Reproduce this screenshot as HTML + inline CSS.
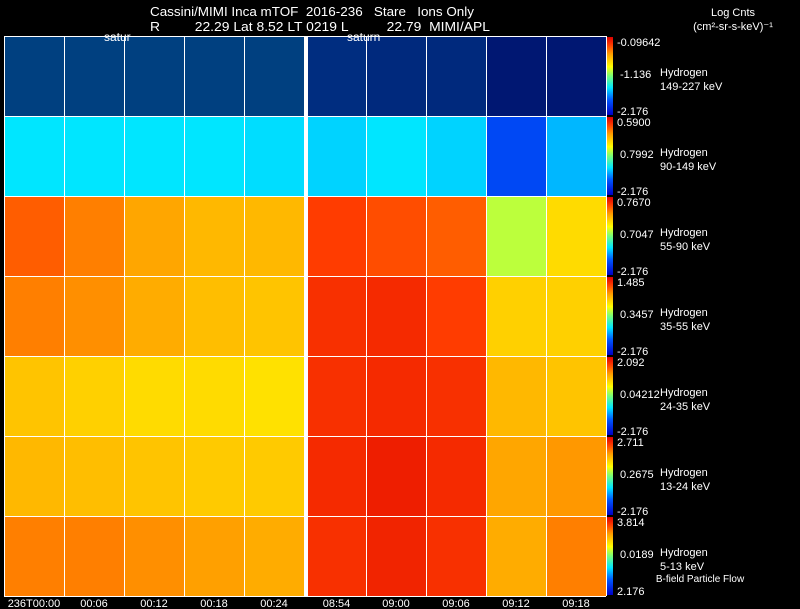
<!DOCTYPE html>
<html><head><meta charset="utf-8"><style>
html,body{margin:0;padding:0;background:#000;width:800px;height:609px;overflow:hidden}
svg{display:block;font-family:"Liberation Sans",sans-serif}
</style></head><body>
<svg id="chart" width="800" height="609" viewBox="0 0 800 609">
<rect width="800" height="609" fill="#000"/>
<text x="150" y="16" fill="#fff" font-size="13" xml:space="preserve" style="white-space:pre" textLength="324" lengthAdjust="spacingAndGlyphs">Cassini/MIMI Inca mTOF  2016-236   Stare   Ions Only</text>
<text x="150" y="31" fill="#fff" font-size="13" xml:space="preserve" style="white-space:pre" textLength="340" lengthAdjust="spacingAndGlyphs">R         22.29 Lat 8.52 LT 0219 L          22.79  MIMI/APL</text>
<text x="733" y="16" fill="#fff" font-size="11" text-anchor="middle">Log Cnts</text>
<text x="733" y="30" fill="#fff" font-size="11" text-anchor="middle">(cm²-sr-s-keV)⁻¹</text>
<g id="panels"></g>
<g id="bars"></g>
<g id="grid"></g>
<text x="104" y="41" fill="#fff" font-size="12">satur</text>
<text x="347" y="41" fill="#fff" font-size="12">saturn</text>
<text x="700" y="582" fill="#fff" font-size="10" text-anchor="middle">B-field Particle Flow</text>
<g id="xlabels"></g>
</svg>
<script>
const times=["236T00:00","00:06","00:12","00:18","00:24","08:54","09:00","09:06","09:12","09:18"];
const energies=["149-227 keV","90-149 keV","55-90 keV","35-55 keV","24-35 keV","13-24 keV","5-13 keV"];
const barTop=["-0.09642","0.5900","0.7670","1.485","2.092","2.711","3.814"];
const barMid=["-1.136","0.7992","0.7047","0.3457","0.04212","0.2675","0.0189"];
const barBot=["-2.176","-2.176","-2.176","-2.176","-2.176","-2.176","2.176"];
const row1=[0.24,0.24,0.24,0.24,0.24,0.2,0.18,0.18,0.1,0.1];
const row2=[0.35,0.35,0.35,0.35,0.34,0.33,0.35,0.33,0.16,0.3];
const row3=[0.86,0.82,0.77,0.74,0.74,0.9,0.88,0.86,0.56,0.68];
const row4=[0.82,0.8,0.76,0.73,0.72,0.92,0.93,0.9,0.7,0.7];
const row5=[0.72,0.7,0.68,0.68,0.67,0.92,0.93,0.92,0.74,0.72];
const row6=[0.74,0.73,0.72,0.71,0.71,0.93,0.95,0.93,0.77,0.79];
const row7=[0.82,0.82,0.8,0.78,0.76,0.92,0.94,0.92,0.76,0.82];
const rows=[row1,row2,row3,row4,row5,row6,row7];
const NS="http://www.w3.org/2000/svg";
function el(t,a,p){const e=document.createElementNS(NS,t);for(const k in a)e.setAttribute(k,a[k]);p.appendChild(e);return e;}
const stops=[[0,[0,0,200]],[0.2,[0,90,255]],[0.35,[0,230,255]],[0.5,[120,255,120]],[0.62,[255,255,0]],[0.78,[255,160,0]],[0.9,[255,60,0]],[1,[220,0,0]]];
function cmap(v){for(let i=1;i<stops.length;i++){if(v<=stops[i][0]){const a=stops[i-1],b=stops[i];const t=(v-a[0])/(b[0]-a[0]);const c=a[1].map((x,j)=>Math.round(x+(b[1][j]-x)*t));return `rgb(${c})`;}}return "rgb(220,0,0)";}
const colX=[4,64,124,184,244,307,366,426,486,546,606];
function xPos(i){return colX[i];}
function xW(i){return i===4?60:(colX[i+1]-colX[i]);}
function yPos(r){return 36+r*80;}
const P=document.getElementById('panels'),B=document.getElementById('bars'),G=document.getElementById('grid'),X=document.getElementById('xlabels');
rows.forEach((row,r)=>{
  row.forEach((v,c)=>{
    const rc=el('rect',{x:xPos(c),y:yPos(r),width:xW(c),height:80,fill:cmap(v),opacity:r===0?0.5:1},P);
    
    
  });
  const y=yPos(r);
  const gid='g'+r;
  const lg=el('linearGradient',{id:gid,x1:0,y1:1,x2:0,y2:0},B);
  stops.forEach(s=>el('stop',{offset:s[0],'stop-color':cmap(s[0])},lg));
  const cb=el('rect',{x:606,y:y+1,width:7,height:78,fill:'url(#'+gid+')'},B);
  
  
  const t1=el('text',{x:617,y:y+10,fill:'#fff','font-size':11},B);t1.textContent=barTop[r];
  
  
  const t2=el('text',{x:620,y:y+42,fill:'#fff','font-size':11},B);t2.textContent=barMid[r];
  
  
  const t3=el('text',{x:617,y:y+79,fill:'#fff','font-size':11},B);t3.textContent=barBot[r];
  
  
  const h=el('text',{x:660,y:y+40,fill:'#fff','font-size':11},B);h.textContent='Hydrogen';
  
  
  const e=el('text',{x:660,y:y+54,fill:'#fff','font-size':11},B);e.textContent=energies[r];
  
  
  el('line',{x1:4,x2:606,y1:y+0.5,y2:y+0.5,stroke:'#fff','stroke-width':1},G);
});
el('line',{x1:4,x2:606,y1:596.5,y2:596.5,stroke:'#fff','stroke-width':1},G);
colX.forEach((x)=>{el('line',{x1:x+0.5,x2:x+0.5,y1:36,y2:596,stroke:'#fff','stroke-width':1},G);});
el('rect',{x:304,y:36,width:3,height:560,fill:'#fff'},G);
times.forEach((t,i)=>{
  const tx=el('text',{x:xPos(i)+xW(i)/2,y:607,fill:'#fff','font-size':11,'text-anchor':'middle'},X);
  tx.textContent=t;
  
  
});
</script>
</body></html>
